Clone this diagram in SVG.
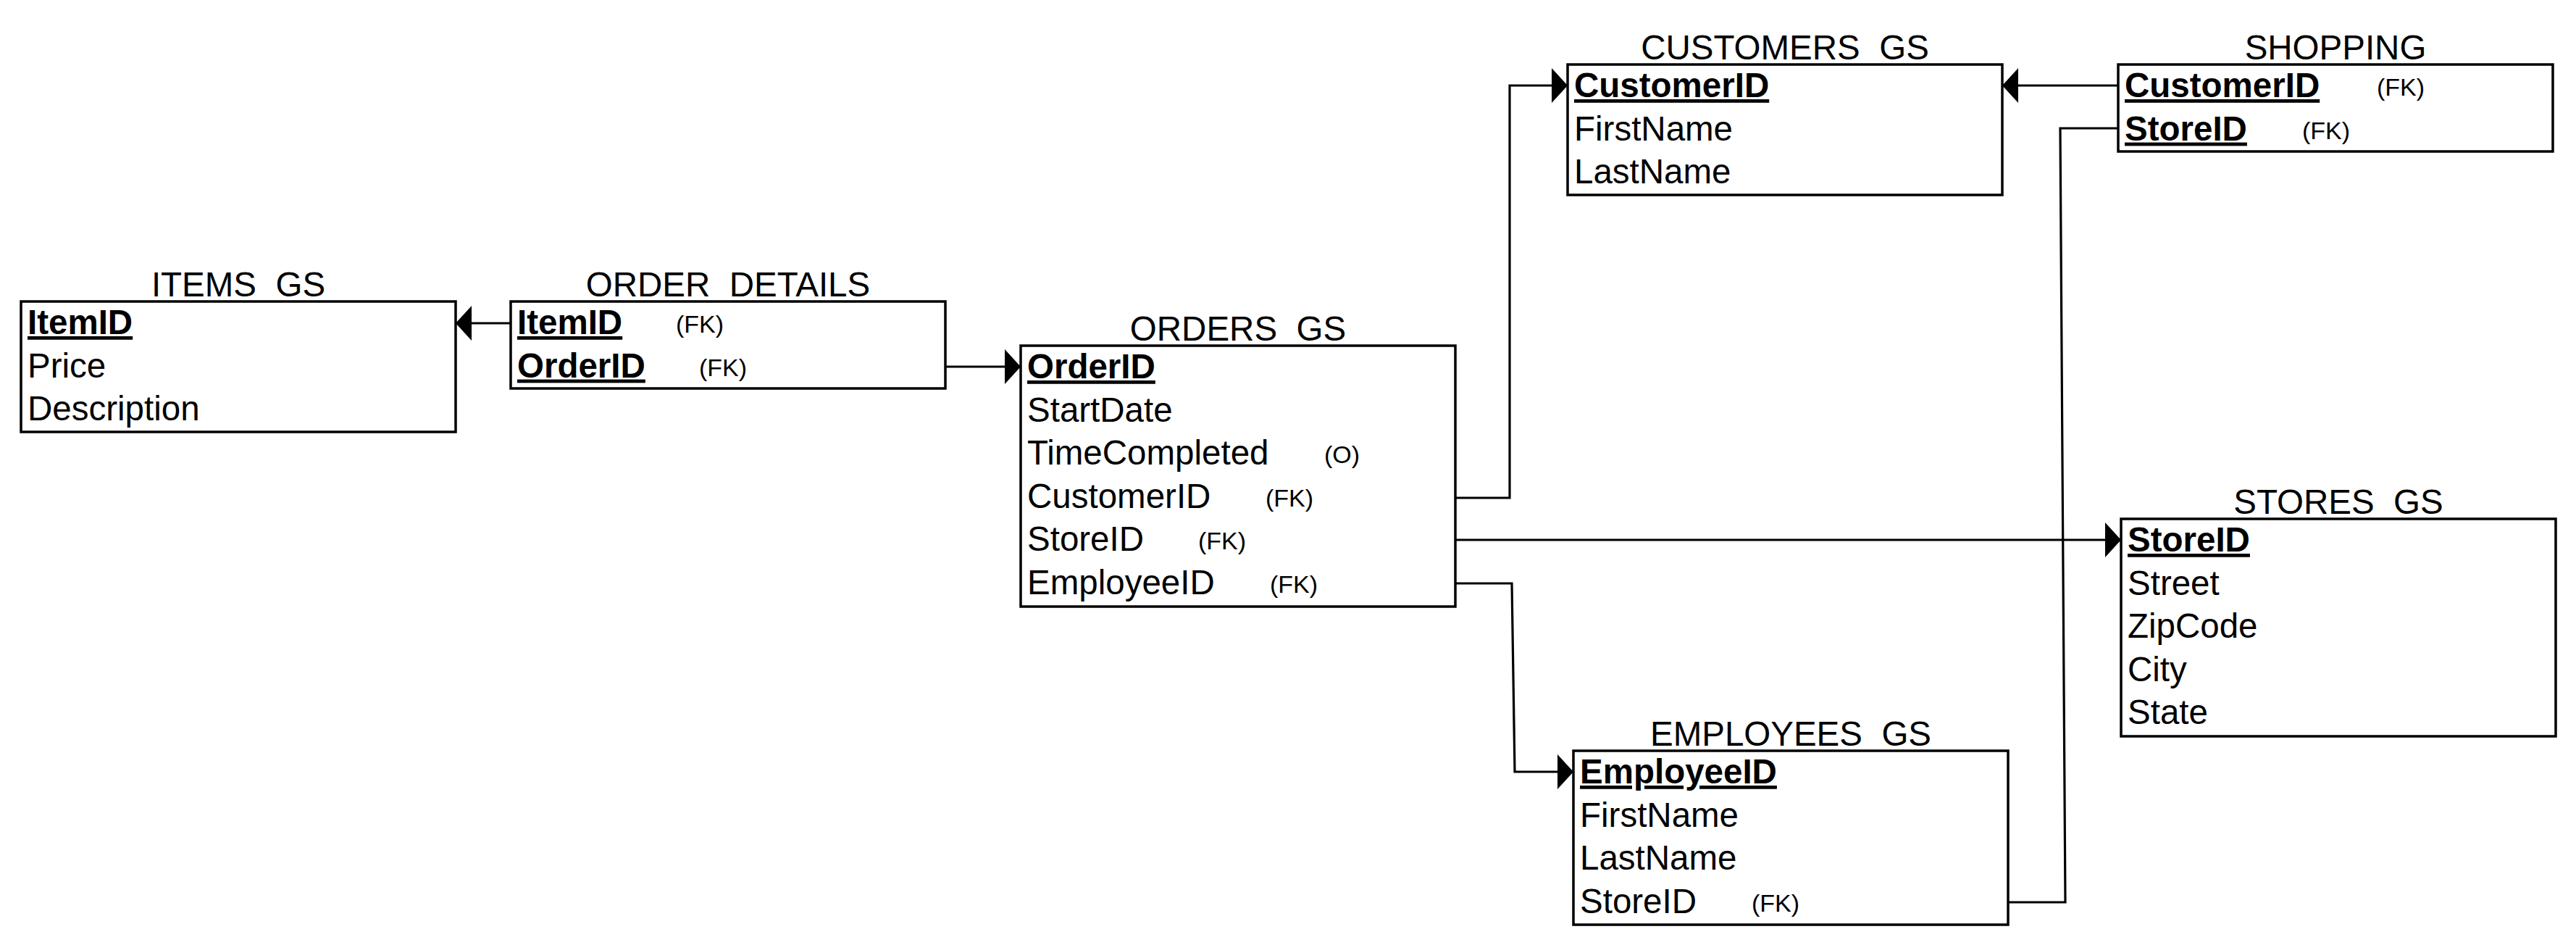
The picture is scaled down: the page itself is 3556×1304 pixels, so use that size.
<svg xmlns="http://www.w3.org/2000/svg" width="3556" height="1304" viewBox="0 0 3556 1304">
<style>
.box{fill:#ffffff;stroke:#000000;stroke-width:3.5}
.t{font-family:"Liberation Sans",Arial,Helvetica,sans-serif;font-size:47.5px;fill:#000000}
.title{text-anchor:middle}
.pk{font-weight:bold;text-decoration:underline}
.fk{font-family:"Liberation Sans",Arial,Helvetica,sans-serif;font-size:34px;fill:#000000}
.conn{fill:none;stroke:#000000;stroke-width:3.2}
</style>
<defs>
<marker id="arr" viewBox="0 0 22 48" refX="22" refY="24" markerWidth="22" markerHeight="48" markerUnits="userSpaceOnUse" orient="auto">
<path d="M0,0 L22,24 L0,48 Z" fill="#000000"/>
</marker>
</defs>
<rect width="3556" height="1304" fill="#ffffff"/>

<g id="connectors">
<path class="conn" d="M705,446 L629,446" marker-end="url(#arr)"/>
<path class="conn" d="M1305,506 L1409,506" marker-end="url(#arr)"/>
<path class="conn" d="M2009,687 L2084,687 L2084,118 L2164,118" marker-end="url(#arr)"/>
<path class="conn" d="M2009,745 L2928,745" marker-end="url(#arr)"/>
<path class="conn" d="M2009,805 L2087,805 L2091,1065 L2172,1065" marker-end="url(#arr)"/>
<path class="conn" d="M2924,118 L2764,118" marker-end="url(#arr)"/>
<path class="conn" d="M2924,177 L2844,177 L2851,1245 L2772,1245"/>
</g>

<g id="items_gs">
<text class="t title" x="329" y="409">ITEMS_GS</text>
<rect class="box" x="29" y="416" width="600" height="180"/>
<text class="t pk" x="38" y="461">ItemID</text>
<text class="t" x="38" y="520.6">Price</text>
<text class="t" x="38" y="580.2">Description</text>
</g>

<g id="order_details">
<text class="t title" x="1005" y="409">ORDER_DETAILS</text>
<rect class="box" x="705" y="416" width="600" height="120"/>
<text class="t pk" x="714" y="461">ItemID</text>
<text class="fk" x="933" y="459">(FK)</text>
<text class="t pk" x="714" y="520.6">OrderID</text>
<text class="fk" x="965" y="518.6">(FK)</text>
</g>

<g id="orders_gs">
<text class="t title" x="1709" y="470">ORDERS_GS</text>
<rect class="box" x="1409" y="477" width="600" height="360"/>
<text class="t pk" x="1418" y="522">OrderID</text>
<text class="t" x="1418" y="581.6">StartDate</text>
<text class="t" x="1418" y="641.2">TimeCompleted</text>
<text class="fk" x="1828" y="639.2">(O)</text>
<text class="t" x="1418" y="700.8">CustomerID</text>
<text class="fk" x="1747" y="698.8">(FK)</text>
<text class="t" x="1418" y="760.4">StoreID</text>
<text class="fk" x="1654" y="758.4">(FK)</text>
<text class="t" x="1418" y="820">EmployeeID</text>
<text class="fk" x="1753" y="818">(FK)</text>
</g>

<g id="customers_gs">
<text class="t title" x="2464" y="82">CUSTOMERS_GS</text>
<rect class="box" x="2164" y="89" width="600" height="180"/>
<text class="t pk" x="2173" y="134">CustomerID</text>
<text class="t" x="2173" y="193.6">FirstName</text>
<text class="t" x="2173" y="253.2">LastName</text>
</g>

<g id="shopping">
<text class="t title" x="3224" y="82">SHOPPING</text>
<rect class="box" x="2924" y="89" width="600" height="120"/>
<text class="t pk" x="2933" y="134">CustomerID</text>
<text class="fk" x="3281" y="132">(FK)</text>
<text class="t pk" x="2933" y="193.6">StoreID</text>
<text class="fk" x="3178" y="191.6">(FK)</text>
</g>

<g id="stores_gs">
<text class="t title" x="3228" y="709">STORES_GS</text>
<rect class="box" x="2928" y="716" width="600" height="300"/>
<text class="t pk" x="2937" y="761">StoreID</text>
<text class="t" x="2937" y="820.6">Street</text>
<text class="t" x="2937" y="880.2">ZipCode</text>
<text class="t" x="2937" y="939.8">City</text>
<text class="t" x="2937" y="999.4">State</text>
</g>

<g id="employees_gs">
<text class="t title" x="2472" y="1029">EMPLOYEES_GS</text>
<rect class="box" x="2172" y="1036" width="600" height="240"/>
<text class="t pk" x="2181" y="1081">EmployeeID</text>
<text class="t" x="2181" y="1140.6">FirstName</text>
<text class="t" x="2181" y="1200.2">LastName</text>
<text class="t" x="2181" y="1259.8">StoreID</text>
<text class="fk" x="2418" y="1257.8">(FK)</text>
</g>
</svg>
